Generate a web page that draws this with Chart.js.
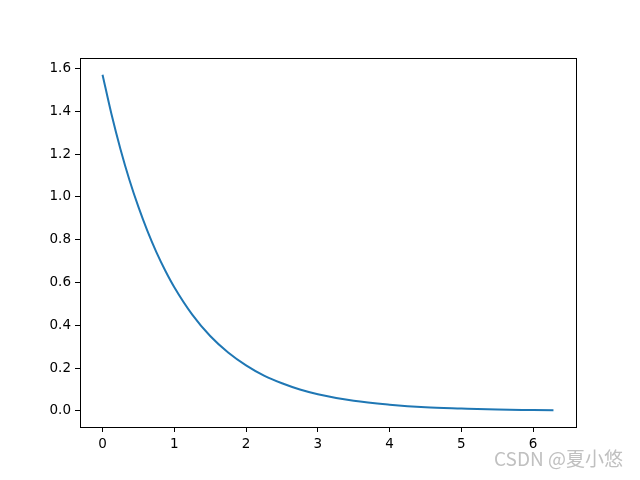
<!DOCTYPE html>
<html>
<head>
<meta charset="utf-8">
<script src="https://cdn.jsdelivr.net/npm/chart.js@4/dist/chart.umd.min.js"></script>
<style>
html,body{margin:0;padding:0;background:#fff;}
#wrap{position:relative;width:640px;height:480px;}
#wm{position:absolute;left:494px;top:448px;font-family:"Noto Sans CJK SC","DejaVu Sans",sans-serif;font-size:19px;color:#c0c0c0;white-space:nowrap;line-height:1;}
</style>
</head>
<body>
<div id="wrap">
<canvas id="c" width="640" height="480"></canvas>
<div id="wm">CSDN @夏小悠</div>
</div>
<script>
const xValues = [0, 0.125, 0.25, 0.375, 0.5, 0.625, 0.75, 0.875, 1, 1.25, 1.5, 1.75, 2, 2.25, 2.5, 2.75, 3, 3.5, 4, 4.5, 5, 5.5, 6, 6.283];
const yValues = [1.571, 1.386, 1.223, 1.079, 0.953, 0.841, 0.742, 0.655, 0.578, 0.450, 0.350, 0.273, 0.213, 0.165, 0.129, 0.100, 0.078, 0.047, 0.029, 0.017, 0.011, 0.006, 0.004, 0.003];
const xTicks = [0, 1, 2, 3, 4, 5, 6];
const yTicks = [0.0, 0.2, 0.4, 0.6, 0.8, 1.0, 1.2, 1.4, 1.6];

const points = xValues.map((x, i) => ({x: x, y: yValues[i]}));

const frame = {
  id: 'frame',
  afterDraw(chart) {
    const a = chart.chartArea, ctx = chart.ctx;
    ctx.save();
    ctx.strokeStyle = '#000';
    ctx.lineWidth = 1;
    ctx.strokeRect(Math.round(a.left) + 0.5, Math.round(a.top) + 0.5, Math.round(a.right - a.left), Math.round(a.bottom - a.top));
    ctx.restore();
  }
};

new Chart(document.getElementById('c'), {
  type: 'line',
  data: {
    datasets: [{
      data: points,
      borderColor: '#1f77b4',
      borderWidth: 2,
      pointRadius: 0,
      fill: false,
      cubicInterpolationMode: 'monotone'
    }]
  },
  options: {
    responsive: false,
    animation: false,
    layout: {padding: {left: 0, right: 64, top: 58, bottom: 0}},
    plugins: {legend: {display: false}, tooltip: {enabled: false}},
    scales: {
      x: {
        type: 'linear',
        min: -0.314,
        max: 6.597,
        afterFit(s) { s.height = 53; },
        afterBuildTicks(s) { s.ticks = xTicks.map(v => ({value: v})); },
        ticks: {color: '#000', font: {family: 'DejaVu Sans', size: 13.5}, padding: 4, callback: v => String(v), maxRotation: 0},
        grid: {display: true, drawOnChartArea: false, drawTicks: true, tickLength: 5, tickColor: '#000'},
        border: {display: true, color: '#000'}
      },
      y: {
        type: 'linear',
        min: -0.0754,
        max: 1.649,
        afterFit(s) { s.width = 80; },
        afterBuildTicks(s) { s.ticks = yTicks.map(v => ({value: v})); },
        ticks: {color: '#000', font: {family: 'DejaVu Sans', size: 13.5}, padding: 4, callback: v => Number(v).toFixed(1)},
        grid: {display: true, drawOnChartArea: false, drawTicks: true, tickLength: 5, tickColor: '#000'},
        border: {display: true, color: '#000'}
      }
    }
  },
  plugins: [frame]
});
</script>
</body>
</html>
